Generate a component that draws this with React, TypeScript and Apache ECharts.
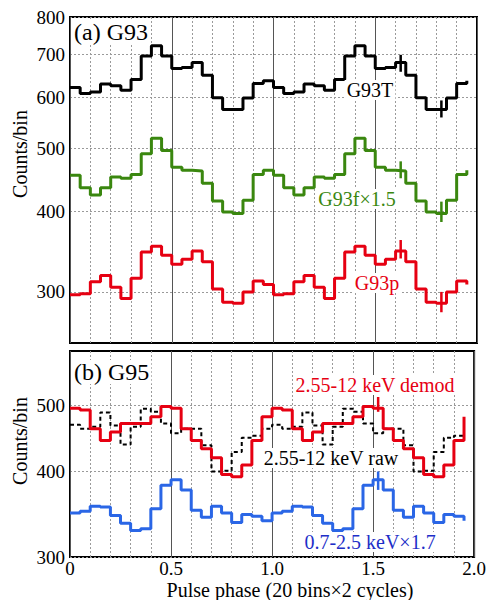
import React, { useEffect, useRef } from 'react';
import * as echarts from 'echarts';

// Phase of each bin start (20 bins x 2 cycles)
const phaseBins = [
  0, 0.05, 0.1, 0.15, 0.2, 0.25, 0.3, 0.35, 0.4, 0.45,
  0.5, 0.55, 0.6, 0.65, 0.7, 0.75, 0.8, 0.85, 0.9, 0.95,
  1.0, 1.05, 1.1, 1.15, 1.2, 1.25, 1.3, 1.35, 1.4, 1.45,
  1.5, 1.55, 1.6, 1.65, 1.7, 1.75, 1.8, 1.85, 1.9, 1.95,
];

// One pulse cycle (20 bins) of each profile; the figure shows two cycles
const g93T = [622, 609, 612, 630, 626, 616, 640, 696, 722, 696, 666, 668, 680, 650, 600, 575, 575, 599, 631, 637];
const g93f = [455, 435, 424, 435, 452, 450, 456, 491, 519, 497, 468, 463, 462, 442, 415, 399, 397, 416, 456, 463];
const g93p = [297, 298, 311, 318, 305, 293, 315, 346, 353, 342, 331, 337, 347, 334, 303, 289, 288, 300, 312, 308];
const g95demod = [495, 492, 462, 444, 457, 470, 470, 470, 481, 498, 495, 462, 444, 432, 419, 396, 393, 409, 444, 481];
const g95raw = [468, 462, 465, 488, 467, 438, 465, 494, 489, 470, 455, 462, 462, 437, 400, 401, 427, 448, 451, 462];
const g95soft = [348, 350, 356, 355, 345, 336, 328, 330, 353, 382, 389, 376, 351, 343, 356, 348, 337, 346, 344, 339];

// Representative error bars: [phase, low, high]
const errG93T = [[1.625, 658, 699], [1.825, 559, 594]];
const errG93f = [[1.625, 450, 478], [1.825, 385, 414]];
const errG93p = [[1.625, 338, 361], [1.825, 279, 300]];
const errDemod = [[1.525, 489, 514]];
const errSoft = [[1.525, 376, 400]];

const yTicksA = [300, 400, 500, 600, 700, 800];
const yTicksB = [300, 400, 500];
const yRangeA = [250, 800];
const yRangeB = [300, 600];

const SERIF = '"Liberation Serif", "DejaVu Serif", serif';
const BLACK = '#000000';
const GREEN = '#3a870f';
const RED = '#e60012';
const BLUE = '#2a66e6';
const BLUE_TEXT = '#1e2fc8';

const lg = (v: number) => Math.log10(v);

function stepData(cycle: number[]) {
  const both = [...cycle, ...cycle];
  return phaseBins.map((p, i) => [p, lg(both[i])]);
}

function errData(list: number[][]) {
  return list.map((e) => [e[0], lg(e[1]), lg(e[2])]);
}

function stepSeries(name: string, cycle: number[], color: string, xi: number, yi: number, dashed = false) {
  return {
    name,
    type: 'line',
    step: 'end',
    xAxisIndex: xi,
    yAxisIndex: yi,
    data: stepData(cycle),
    showSymbol: false,
    symbol: 'none',
    lineStyle: { color, width: dashed ? 2 : 3, type: dashed ? [4, 3] : 'solid' },
    z: dashed ? 3 : 4,
    silent: true,
  };
}

function errSeries(list: number[][], color: string, xi: number, yi: number) {
  return {
    type: 'custom',
    xAxisIndex: xi,
    yAxisIndex: yi,
    data: errData(list),
    encode: { x: 0, y: [1, 2] },
    z: 5,
    silent: true,
    renderItem: (params: any, api: any) => {
      const x = api.value(0);
      const p1 = api.coord([x, api.value(1)]);
      const p2 = api.coord([x, api.value(2)]);
      return {
        type: 'line',
        shape: { x1: p1[0], y1: p1[1], x2: p2[0], y2: p2[1] },
        style: { stroke: color, lineWidth: 2.5 },
      };
    },
  };
}

function xAxisDef(gridIndex: number, interval: number, position: string, solid: boolean, labels: boolean) {
  return {
    type: 'value',
    gridIndex,
    min: 0,
    max: 2,
    interval,
    position,
    axisLine: { show: false },
    axisTick: { show: false },
    axisLabel: {
      show: labels,
      color: '#000',
      fontFamily: SERIF,
      fontSize: 19,
      margin: 2,
      formatter: (v: number) => (v === 0 ? '0' : v.toFixed(1)),
    },
    splitLine: {
      show: true,
      lineStyle: solid
        ? { color: '#555555', width: 1, type: 'solid' }
        : { color: '#9a9a9a', width: 1, type: [2, 2] },
    },
  };
}

function yAxisDef(gridIndex: number, range: number[], ticks: number[]) {
  const custom = ticks.map(lg);
  return {
    type: 'value',
    gridIndex,
    min: lg(range[0]),
    max: lg(range[1]),
    axisLine: { show: false },
    axisTick: { show: false, customValues: custom },
    axisLabel: {
      customValues: custom,
      color: '#000',
      fontFamily: SERIF,
      fontSize: 19,
      margin: 5,
      formatter: (v: number) => String(Math.round(Math.pow(10, v))),
    },
    splitLine: { show: true, lineStyle: { color: '#9a9a9a', width: 1, type: [2, 2] } },
  };
}

function label(text: string, x: number, y: number, color: string, size: number, align = 'center', rotation = 0, bg = true) {
  return {
    type: 'text',
    x,
    y,
    rotation,
    z: 100,
    silent: true,
    style: {
      text,
      fill: color,
      font: `${size}px ${SERIF}`,
      align,
      textAlign: align,
      verticalAlign: 'middle',
      textVerticalAlign: 'middle',
      backgroundColor: bg ? '#ffffff' : undefined,
      padding: bg ? [0, 2] : undefined,
    },
  };
}

export default function App() {
  const ref = useRef<HTMLDivElement>(null);

  useEffect(() => {
    if (!ref.current) return;
    const chart = echarts.init(ref.current, null, { renderer: 'svg' });
    chart.setOption({
      animation: false,
      backgroundColor: '#ffffff',
      grid: [
        { left: 70, top: 17, width: 407, height: 326, show: true, borderColor: '#000', borderWidth: 2, backgroundColor: 'transparent' },
        { left: 70, top: 351, width: 407, height: 206, show: true, borderColor: '#000', borderWidth: 2, backgroundColor: 'transparent' },
      ],
      xAxis: [
        xAxisDef(0, 0.1, 'bottom', false, false),
        xAxisDef(0, 0.5, 'top', true, false),
        xAxisDef(1, 0.1, 'top', false, false),
        xAxisDef(1, 0.5, 'bottom', true, true),
      ],
      yAxis: [yAxisDef(0, yRangeA, yTicksA), yAxisDef(1, yRangeB, yTicksB)],
      series: [
        stepSeries('G93T', g93T, BLACK, 0, 0),
        stepSeries('G93f×1.5', g93f, GREEN, 0, 0),
        stepSeries('G93p', g93p, RED, 0, 0),
        errSeries(errG93T, BLACK, 0, 0),
        errSeries(errG93f, GREEN, 0, 0),
        errSeries(errG93p, RED, 0, 0),
        stepSeries('2.55-12 keV raw', g95raw, BLACK, 3, 1, true),
        stepSeries('2.55-12 keV demod', g95demod, RED, 3, 1),
        stepSeries('0.7-2.5 keV×1.7', g95soft, BLUE, 3, 1),
        errSeries(errDemod, RED, 3, 1),
        errSeries(errSoft, BLUE, 3, 1),
      ],
      graphic: [
        label('(a) G93', 72, 32, BLACK, 24, 'left'),
        label('G93T', 370, 90, BLACK, 20),
        label('G93f×1.5', 357, 199, GREEN, 20),
        label('G93p', 377, 283, RED, 20),
        label('(b) G95', 72, 372, BLACK, 24, 'left'),
        label('2.55-12 keV demod', 375, 385, RED, 20),
        label('2.55-12 keV raw', 331, 458, BLACK, 20),
        label('0.7-2.5 keV×1.7', 370, 542, BLUE_TEXT, 20),
        label('Counts/bin', 20, 154, BLACK, 20, 'center', Math.PI / 2, false),
        label('Counts/bin', 20, 441, BLACK, 20, 'center', Math.PI / 2, false),
        label('Pulse phase (20 bins×2 cycles)', 290, 590, BLACK, 20, 'center', 0, false),
      ],
    });
    return () => chart.dispose();
  }, []);

  return (
    <div
      ref={ref}
      style={{ position: 'fixed', left: 0, top: 0, width: 489, height: 600, background: '#fff' }}
    />
  );
}
